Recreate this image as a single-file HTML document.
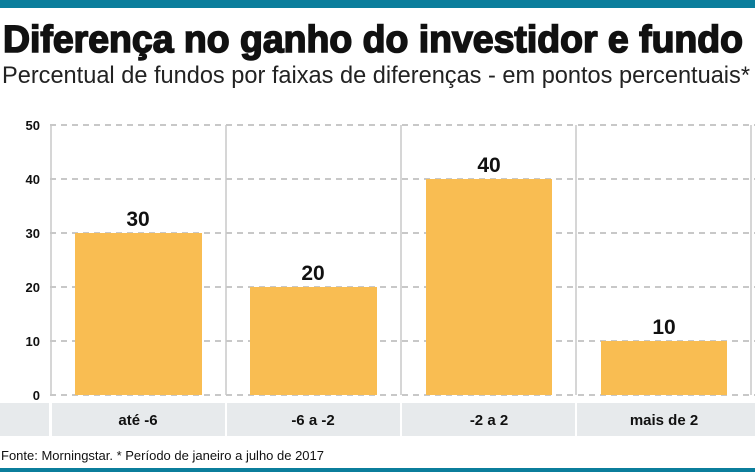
<!DOCTYPE html>
<html><head><meta charset="utf-8"><style>
html,body{margin:0;padding:0;background:#fff;}
svg{display:block;font-family:"Liberation Sans",sans-serif;}
</style></head><body>
<svg width="755" height="472" viewBox="0 0 755 472">
<rect x="0" y="0" width="755" height="8" fill="#0b7e9c"/>
<rect x="0" y="468" width="755" height="4" fill="#0b7e9c"/>
<text x="3" y="52" font-size="38" font-weight="bold" stroke="#111" stroke-width="1.6" textLength="740" lengthAdjust="spacingAndGlyphs" fill="#111">Diferença no ganho do investidor e fundo</text>
<text x="2" y="83" font-size="24" textLength="748" lengthAdjust="spacingAndGlyphs" fill="#222">Percentual de fundos por faixas de diferenças - em pontos percentuais*</text>
<g stroke="#b5b5b5" stroke-width="1.5" stroke-dasharray="6,5">
<line x1="50" y1="125" x2="755" y2="125"/>
<line x1="50" y1="179" x2="755" y2="179"/>
<line x1="50" y1="233" x2="755" y2="233"/>
<line x1="50" y1="287" x2="755" y2="287"/>
<line x1="50" y1="341" x2="755" y2="341"/>
<line x1="50" y1="395" x2="755" y2="395"/>
</g>
<g stroke="#c8c8c8" stroke-width="1.5">
<line x1="51" y1="125" x2="51" y2="395"/>
<line x1="226" y1="125" x2="226" y2="395"/>
<line x1="401" y1="125" x2="401" y2="395"/>
<line x1="576" y1="125" x2="576" y2="395"/>
<line x1="751" y1="125" x2="751" y2="395"/>
</g>
<g fill="#f9bd52">
<rect x="75" y="233" width="127" height="162"/>
<rect x="250" y="287" width="127" height="108"/>
<rect x="426" y="179" width="126" height="216"/>
<rect x="601" y="341" width="126" height="54"/>
</g>
<g font-size="13" font-weight="bold" fill="#111" text-anchor="end">
<text x="40" y="130">50</text><text x="40" y="184">40</text><text x="40" y="238">30</text>
<text x="40" y="292">20</text><text x="40" y="346">10</text><text x="40" y="400">0</text>
</g>
<g font-size="21" font-weight="bold" fill="#111" text-anchor="middle">
<text x="138" y="226">30</text><text x="313" y="280">20</text>
<text x="489" y="172">40</text><text x="664" y="334">10</text>
</g>
<g fill="#e7eaec">
<rect x="0" y="403" width="49" height="33"/>
<rect x="52" y="403" width="173" height="33"/>
<rect x="227" y="403" width="173" height="33"/>
<rect x="402" y="403" width="173" height="33"/>
<rect x="577" y="403" width="178" height="33"/>
</g>
<g font-size="15" font-weight="bold" fill="#111" text-anchor="middle">
<text x="138" y="425">até -6</text><text x="313" y="425">-6 a -2</text>
<text x="489" y="425">-2 a 2</text><text x="664" y="425">mais de 2</text>
</g>
<text x="1" y="460" font-size="13" fill="#111" textLength="323" lengthAdjust="spacingAndGlyphs">Fonte: Morningstar. * Período de janeiro a julho de 2017</text>
</svg>
</body></html>
